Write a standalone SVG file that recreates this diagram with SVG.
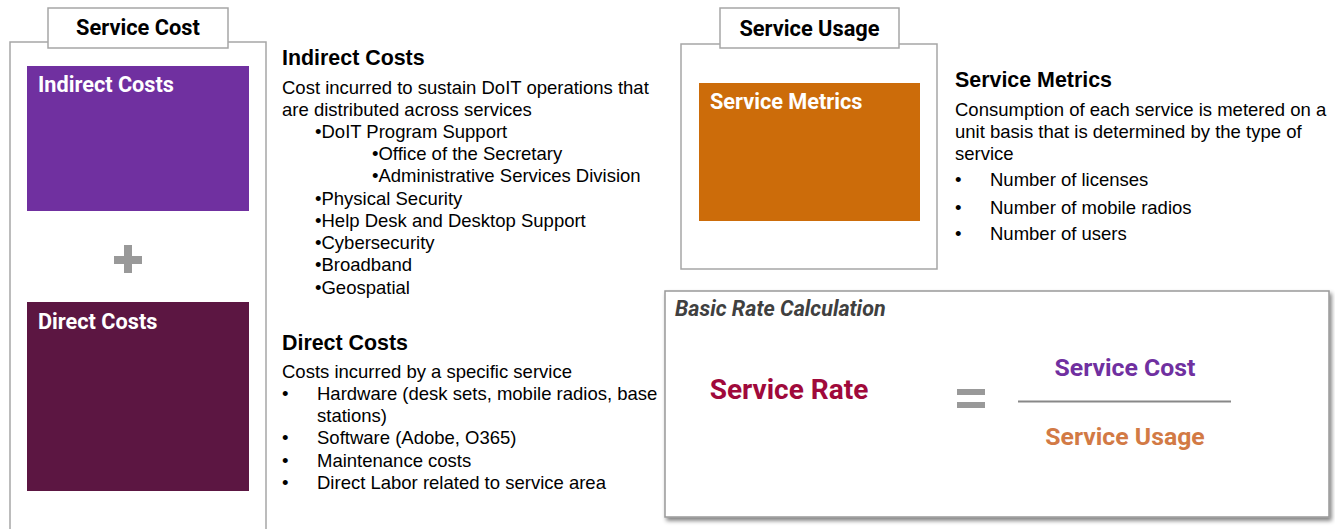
<svg xmlns="http://www.w3.org/2000/svg" width="1335" height="529" viewBox="0 0 1335 529">
<style>
.frame{fill:#fff;stroke:#a6a6a6;stroke-width:1.5}
.lbl{font-family:Roboto,"Liberation Sans",sans-serif;font-weight:700;font-size:21.8px;fill:#000;text-anchor:middle}
.boxt{font-family:Roboto,"Liberation Sans",sans-serif;font-weight:700;font-size:21.7px;fill:#fff}
.h{font-family:"Liberation Sans",Arial,sans-serif;font-weight:700;font-size:21.4px;fill:#000}
.b{font-family:"Liberation Sans",Arial,sans-serif;font-size:18.5px;fill:#000}
.r{font-family:Roboto,"Liberation Sans",sans-serif;font-weight:700;text-anchor:middle}
</style>
<defs>
<filter id="sh" x="-5%" y="-5%" width="110%" height="115%">
<feGaussianBlur in="SourceAlpha" stdDeviation="2"/>
<feOffset dx="2" dy="3"/>
<feComponentTransfer><feFuncA type="linear" slope="0.5"/></feComponentTransfer>
<feMerge><feMergeNode/><feMergeNode in="SourceGraphic"/></feMerge>
</filter>
</defs>

<g id="service-cost">
<rect class="frame" x="10" y="42" width="256" height="500"/>
<rect class="frame" x="48" y="8" width="180" height="40"/>
<text class="lbl" x="138" y="35">Service Cost</text>
</g>

<g id="indirect-box">
<rect x="27" y="66" width="222" height="145" fill="#7030a0"/>
<text class="boxt" x="38" y="92">Indirect Costs</text>
</g>

<g id="plus">
<rect x="114" y="256" width="28" height="8" fill="#999"/>
<rect x="124" y="245" width="8" height="28" fill="#999"/>
</g>

<g id="direct-box">
<rect x="27" y="302" width="222" height="189" fill="#5c1642"/>
<text class="boxt" x="38" y="329">Direct Costs</text>
</g>

<g id="indirect-text">
<text class="h" x="282" y="65">Indirect Costs</text>
<text class="b" x="282" y="94">Cost incurred to sustain DoIT operations that</text>
<text class="b" x="282" y="116">are distributed across services</text>
<text class="b" x="315" y="138">•DoIT Program Support</text>
<text class="b" x="372" y="160">•Office of the Secretary</text>
<text class="b" x="372" y="182">•Administrative Services Division</text>
<text class="b" x="315" y="205">•Physical Security</text>
<text class="b" x="315" y="227">•Help Desk and Desktop Support</text>
<text class="b" x="315" y="249">•Cybersecurity</text>
<text class="b" x="315" y="271">•Broadband</text>
<text class="b" x="315" y="294">•Geospatial</text>
</g>

<g id="direct-text">
<text class="h" x="282" y="350">Direct Costs</text>
<text class="b" x="282" y="378">Costs incurred by a specific service</text>
<text class="b" x="282" y="400">•</text><text class="b" x="317" y="400">Hardware (desk sets, mobile radios, base</text>
<text class="b" x="317" y="422">stations)</text>
<text class="b" x="282" y="444">•</text><text class="b" x="317" y="444">Software (Adobe, O365)</text>
<text class="b" x="282" y="467">•</text><text class="b" x="317" y="467">Maintenance costs</text>
<text class="b" x="282" y="489">•</text><text class="b" x="317" y="489">Direct Labor related to service area</text>
</g>

<g id="service-usage">
<rect class="frame" x="681" y="44" width="256" height="225"/>
<rect class="frame" x="720" y="8" width="179" height="40"/>
<text class="lbl" x="809.5" y="36">Service Usage</text>
</g>

<g id="metrics-box">
<rect x="699" y="83" width="221" height="138" fill="#cc6c0a"/>
<text class="boxt" x="710" y="109">Service Metrics</text>
</g>

<g id="metrics-text">
<text class="h" x="955" y="87">Service Metrics</text>
<text class="b" x="955" y="116">Consumption of each service is metered on a</text>
<text class="b" x="955" y="138">unit basis that is determined by the type of</text>
<text class="b" x="955" y="160">service</text>
<text class="b" x="955" y="186">•</text><text class="b" x="990" y="186">Number of licenses</text>
<text class="b" x="955" y="214">•</text><text class="b" x="990" y="214">Number of mobile radios</text>
<text class="b" x="955" y="240">•</text><text class="b" x="990" y="240">Number of users</text>
</g>

<g id="rate-calc">
<rect x="665" y="291" width="664" height="226" fill="#fff" stroke="#999" stroke-width="1.5" filter="url(#sh)"/>
<text x="675" y="316" font-family="Roboto,'Liberation Sans',sans-serif" font-weight="700" font-style="italic" font-size="21.5px" fill="#404040">Basic Rate Calculation</text>
<text class="r" x="789" y="399" font-size="28px" fill="#a0093b">Service Rate</text>
<rect x="957" y="389" width="28" height="6" fill="#999"/>
<rect x="957" y="402" width="28" height="6" fill="#999"/>
<line x1="1018" y1="401.5" x2="1231" y2="401.5" stroke="#888" stroke-width="2"/>
<text class="r" x="1125" y="376" font-size="24.8px" fill="#7030a0">Service Cost</text>
<text class="r" x="1125" y="445" font-size="24.8px" fill="#d27a45">Service Usage</text>
</g>
</svg>
